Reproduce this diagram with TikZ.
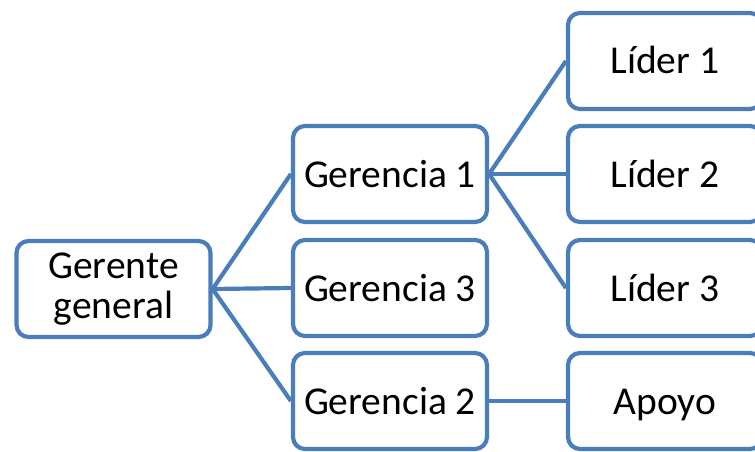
\documentclass[tikz,border=0pt]{standalone}
\usepackage{fontspec}
\setmainfont{Carlito}
\definecolor{boxblue}{HTML}{4A7EBB}
\begin{document}
\begin{tikzpicture}[x=1pt,y=-1pt,
  orgbox/.style={draw=boxblue, line width=4.2pt, fill=white, rounded corners=12pt,
    minimum width=194pt, minimum height=96pt, inner sep=0pt, align=center,
    font=\fontsize{39.5}{40}\selectfont},
  onel/.style={text height=30pt, text depth=4pt},
  link/.style={draw=boxblue, line width=4.2pt}]
\useasboundingbox (0,0) rectangle (755,452);
\clip (0,0) rectangle (755,452);
\node[orgbox] (gg) at (113.5,289) {Gerente\\general};
\node[orgbox,onel] (g1) at (390,174) {Gerencia 1};
\node[orgbox,onel] (g3) at (390,288) {Gerencia 3};
\node[orgbox,onel] (g2) at (390,401) {Gerencia 2};
\node[orgbox,onel] (l1) at (665,61) {Líder 1};
\node[orgbox,onel] (l2) at (665,174) {Líder 2};
\node[orgbox,onel] (l3) at (665,288) {Líder 3};
\node[orgbox,onel] (ap) at (665,401) {Apoyo};
\draw[link] (gg.east) -- (g1.west);
\draw[link] (gg.east) -- (g3.west);
\draw[link] (gg.east) -- (g2.west);
\draw[link] (g1.east) -- (l1.west);
\draw[link] (g1.east) -- (l2.west);
\draw[link] (g1.east) -- (l3.west);
\draw[link] (g2.east) -- (ap.west);
\end{tikzpicture}
\end{document}
